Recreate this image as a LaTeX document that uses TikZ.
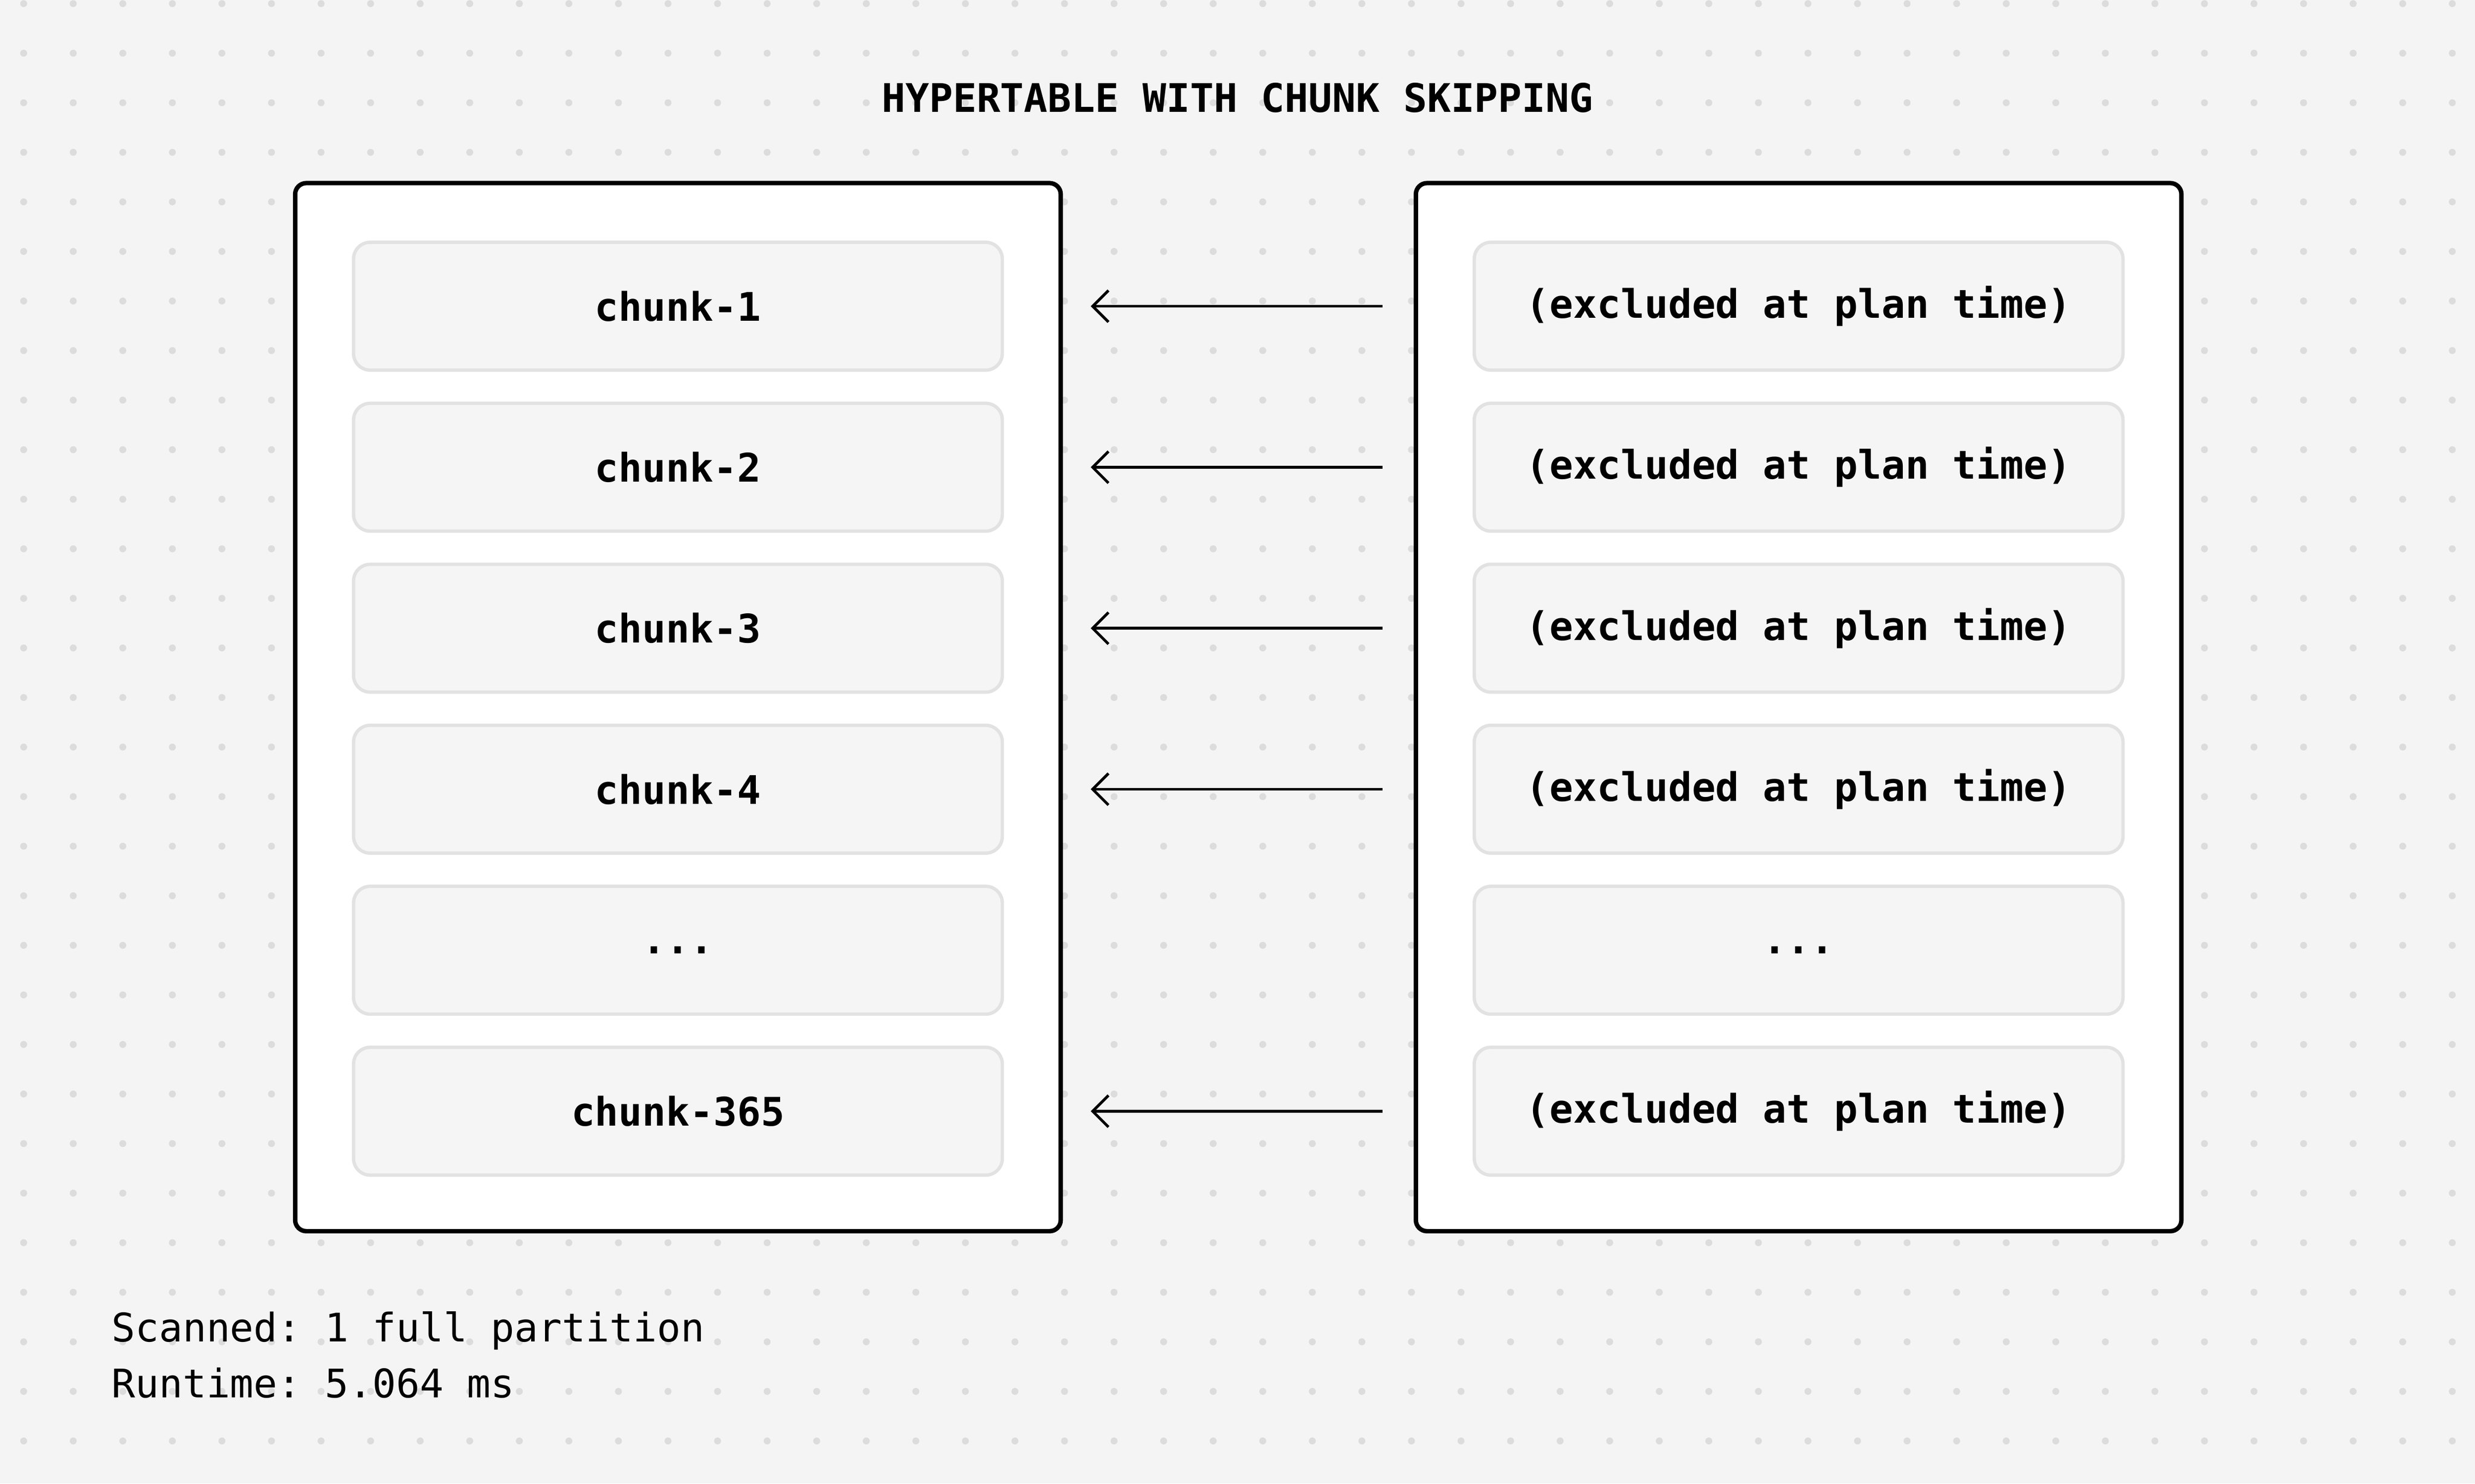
\documentclass[tikz,border=0pt]{standalone}
\usepackage{fontspec}
\setmonofont{DejaVu Sans Mono}
\usetikzlibrary{arrows.meta}
\definecolor{bg}{HTML}{F4F4F4}
\definecolor{dot}{HTML}{DCDCDC}
\definecolor{cell}{HTML}{F5F5F5}
\definecolor{cellb}{HTML}{E2E2E2}
\newcommand\mydots{.{}.{}.}
\newcommand\excl{(excluded at plan time)}
\tikzset{
 frame/.style={draw=black,line width=0.8pt,fill=white,rounded corners=2pt},
 cell/.style={draw=cellb,line width=0.6pt,fill=cell,rounded corners=3pt,minimum width=41.1mm,minimum height=8.1mm,font=\ttfamily\bfseries\fontsize{7.1}{8}\selectfont},
 arr/.style={-{Straight Barb[length=1mm,width=2mm]},line width=0.5pt},
 txt/.style={font=\ttfamily\fontsize{7.1}{8}\selectfont,anchor=west,inner sep=0}
}
\begin{document}
\begin{tikzpicture}[x=0.1mm,y=-0.1mm]
\useasboundingbox (0,0) rectangle (1568,940);
\fill[bg] (0,0) rectangle (1568,940);
\foreach \i in {0,1,...,49}{\foreach \j in {0,1,...,29}{
 \fill[dot] (15+31.4*\i,2.3+31.4*\j) circle (2.2);}}
\node[font=\ttfamily\bfseries\fontsize{7.1}{8}\selectfont] (title) at (784,62) {HYPERTABLE WITH CHUNK SKIPPING};
\draw[frame] (187,116) rectangle (672,780);
\draw[frame] (897,116) rectangle (1382,780);
\foreach \n/\y/\l/\r in {1/194/chunk-1/\excl,2/296/chunk-2/\excl,3/398/chunk-3/\excl,4/500/chunk-4/\excl,5/602/\mydots/\mydots,6/704/chunk-365/\excl}{
 \node[cell] (L\n) at (429.5,\y) {\l};
 \node[cell] (R\n) at (1139.5,\y) {\r};
 \coordinate (a\n) at (876,\y);
 \coordinate (b\n) at (691,\y);
}
\foreach \n in {1,2,3,4,6}{\draw[arr] (a\n) -- (b\n);}
\node[txt] (s1) at (70,843) {Scanned: 1 full partition};
\node[txt] (s2) at (70,876) {Runtime: 5.064 ms};
\end{tikzpicture}
\end{document}
